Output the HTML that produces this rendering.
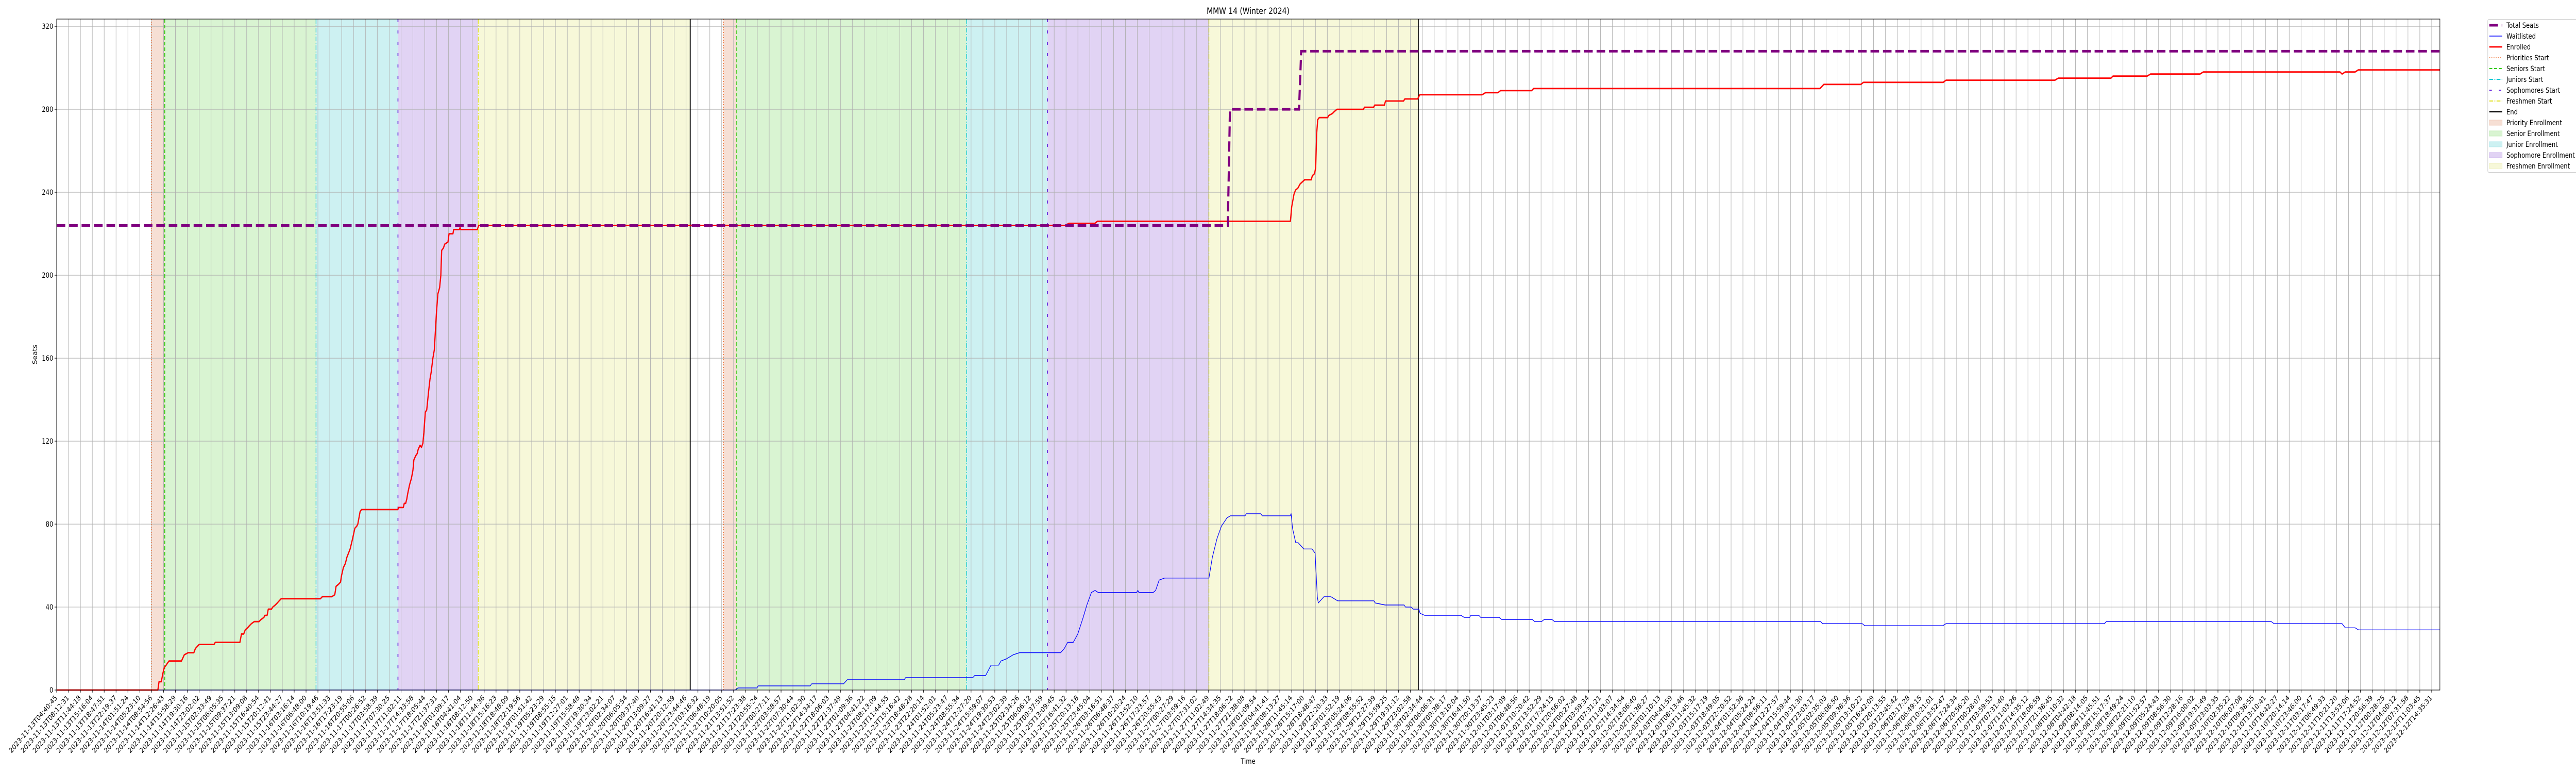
<!DOCTYPE html>
<html><head><meta charset="utf-8"><title>MMW 14 (Winter 2024)</title>
<meta name="viewport" content="width=6000, initial-scale=1">
<style>
html,body{margin:0;padding:0;background:#fff;overflow:hidden;width:100%;height:100%;}
svg{display:block;width:100vw;height:100vh;font-family:"DejaVu Sans","Liberation Sans",sans-serif;}
</style></head>
<body>
<svg id="chart" xmlns="http://www.w3.org/2000/svg" viewBox="0 0 6000 1500" preserveAspectRatio="none">
<rect x="0" y="0" width="6000" height="1500" fill="#ffffff"/>
<g id="spans"></g>
<g id="grid"></g>
<g id="vlines"></g>
<g id="series"></g>
<g id="axes"></g>
<text x="2907" y="27" text-anchor="middle" font-size="16.7" fill="#000">MMW 14 (Winter 2024)</text>
<text x="2907" y="1482" text-anchor="middle" font-size="13.9" fill="#000">Time</text>
<text x="86" y="688" text-anchor="middle" font-size="13.9" fill="#000" transform="rotate(-90 86 688)">Seats</text>
<g id="legend"></g>
</svg>
<script>
// ---- data (x = tick index position, y = seats) ----
const enrolledX = [0,8.52,8.62,8.81,8.94,9.07,9.22,9.33,9.46,10.51,10.75,11.07,11.55,11.68,11.84,12.01,13.25,13.36,15.43,15.56,15.75,15.88,16.07,16.23,16.40,16.64,17.04,17.21,17.45,17.53,17.72,17.82,18.09,18.20,18.41,18.58,18.74,18.90,22.21,22.37,23.17,23.42,23.53,23.74,23.90,23.98,24.14,24.31,24.44,24.71,24.92,25.11,25.27,25.36,25.55,25.67,28.73,28.79,29.19,29.27,29.39,29.48,29.57,29.72,29.87,30.00,30.08,30.24,30.36,30.44,30.60,30.72,30.84,30.92,31.04,31.16,31.32,31.44,31.53,31.68,31.80,31.98,32.10,32.25,32.35,32.42,32.56,32.68,32.95,33.04,33.37,33.43,33.91,33.97,34.03,35.42,35.54,84.89,85.25,87.42,87.64,103.89,104.00,104.19,104.32,104.52,104.71,104.90,105.09,105.65,105.74,105.93,106.02,106.10,106.19,106.32,107.03,107.12,107.44,107.61,107.81,110.04,110.13,110.90,110.99,111.81,111.90,113.42,113.53,114.61,114.78,120.03,120.32,121.37,121.58,124.20,124.37,148.48,148.81,151.92,152.15,158.86,159.10,168.26,168.55,172.99,173.16,176.03,176.32,180.48,180.77,192.27,192.45,192.72,193.55,193.82,200.69];
const enrolledY = [0,0,4,4,8,11,12,13,14,14,17,18,18,20,21,22,22,23,23,27,27,29,30,31,32,33,33,34,35,36,36,39,39,40,41,42,43,44,44,45,45,46,50,51,52,55,59,61,64,68,73,78,79,80,86,87,87,88,88,90,90,92,95,99,102,106,111,113,114,116,118,117,119,124,134,135,144,150,153,160,164,182,191,194,200,212,213,215,216,220,220,222,222,223,222,222,224,224,225,225,226,226,233,239,241,242,244,245,246,246,248,249,252,268,275,276,276,277,278,279,280,280,281,281,282,282,284,284,285,285,287,287,288,288,289,289,290,290,292,292,293,293,294,294,295,295,296,296,297,297,298,298,297,298,298,299,299];
const waitX = [0,57.14,57.37,58.97,59.07,63.45,63.58,66.27,66.58,71.37,71.49,77.15,77.31,78.23,78.68,79.32,79.52,79.97,80.55,81.08,84.54,84.85,85.14,85.61,85.99,86.44,86.75,87.13,87.44,87.71,90.93,91.05,91.13,92.33,92.54,92.84,93.30,97.03,97.32,97.71,98.08,98.55,98.85,100.07,100.18,101.40,101.52,103.87,103.95,104.07,104.34,104.55,105.02,105.71,105.97,106.16,106.24,106.72,107.30,107.87,110.92,111.03,111.86,113.47,113.58,114.06,114.23,114.71,114.81,115.20,118.26,118.53,118.98,119.09,119.76,119.92,121.47,121.69,124.26,124.47,125.04,125.26,125.92,126.14,148.54,148.70,152.04,152.26,158.82,159.10,172.44,172.60,186.49,186.72,192.45,192.72,193.55,193.83,200.69];
const waitY = [0,0,1,1,2,2,3,3,5,5,6,6,7,7,12,12,14,15,17,18,18,20,23,23,27,35,41,47,48,47,47,48,47,47,48,53,54,54,64,73,79,83,84,84,85,85,84,84,85,78,71,71,68,68,66,45,42,45,45,43,43,42,41,41,40,40,39,39,37,36,36,35,35,36,36,35,35,34,34,33,33,34,34,33,33,32,32,31,31,32,32,33,33,32,32,30,30,29,29];
const seatsX = [0,98.62,98.80,104.62,104.80,200.69];
const seatsY = [224,224,280,280,308,308];
const phaseNames = ["priority","senior","junior","sophomore","freshmen","priority","senior","junior","sophomore","freshmen"];
const phaseStart = [7.98,9.10,21.84,28.74,35.50,56.15,57.27,76.63,83.44,97.03];
const phaseEnd   = [9.10,21.84,28.74,35.50,53.35,57.27,76.63,83.44,97.03,114.66];
const endLines = [53.35,114.66];
const yTicks = [0,40,80,120,160,200,240,280,320];
const tickCount = 201;
const firstTickLabel = "2023-11-13T04:40:45";
const lastTickLabel = "2023-12-12T14:35:31";

// ---- scales ----
const X0=132, X1=5683, Y0=1339, Y1=37, XMIN=0, XMAX=200.69, YMAX=323.5;
const sx = v => X0 + (v - XMIN) / (XMAX - XMIN) * (X1 - X0);
const sy = v => Y0 - v / YMAX * (Y0 - Y1);
const NS = "http://www.w3.org/2000/svg";
function mk(tag, attrs, parent){ const e=document.createElementNS(NS,tag); for(const k in attrs) e.setAttribute(k,attrs[k]); if(parent) parent.appendChild(e); return e; }

const phaseFill = {priority:"#f6dfd4", senior:"#d9f4d2", junior:"#cdf1f2", sophomore:"#e1d3f4", freshmen:"#f7f8d9"};
const phaseLine = {
  priority:{c:"#ee6c2d",d:"2,3",w:1.6},
  senior:{c:"#33cc11",d:"7,4",w:2},
  junior:{c:"#11c8d4",d:"9,3,2,3",w:1.6},
  sophomore:{c:"#6622dd",d:"6,16",w:2},
  freshmen:{c:"#e0e020",d:"9,3,2,3",w:1.6}
};

const spansG=document.getElementById('spans');
for(let i=0;i<phaseNames.length;i++){
  const r=mk('rect',{x:sx(phaseStart[i]),y:Y1,width:sx(phaseEnd[i])-sx(phaseStart[i]),height:Y0-Y1,fill:phaseFill[phaseNames[i]]},spansG);
  
  
}
const gridG=document.getElementById('grid');
for(let i=0;i<tickCount;i++){
  const l=mk('line',{x1:sx(i),x2:sx(i),y1:Y1,y2:Y0,stroke:"#b0b0b0","stroke-width":1.1},gridG);
  
  
}
yTicks.forEach(t=>{
  const l=mk('line',{x1:X0,x2:X1,y1:sy(t),y2:sy(t),stroke:"#b0b0b0","stroke-width":1.1},gridG);
  
  
});
const vG=document.getElementById('vlines');
for(let i=0;i<phaseNames.length;i++){
  const s=phaseLine[phaseNames[i]];
  const l=mk('line',{x1:sx(phaseStart[i]),x2:sx(phaseStart[i]),y1:Y1,y2:Y0,stroke:s.c,"stroke-width":s.w,"stroke-dasharray":s.d},vG);
  
  
}
endLines.forEach(e=>{
  const l=mk('line',{x1:sx(e),x2:sx(e),y1:Y1,y2:Y0,stroke:"#000","stroke-width":2.2},vG);
  
  
});
const serG=document.getElementById('series');
function pts(xs,ys){ return xs.map((x,i)=>sx(x).toFixed(1)+','+sy(ys[i]).toFixed(1)).join(' '); }
const wl=mk('polyline',{points:pts(waitX,waitY),fill:"none",stroke:"#0000ff","stroke-width":1.4,"stroke-linejoin":"round"},serG);


const en=mk('polyline',{points:pts(enrolledX,enrolledY),fill:"none",stroke:"#ff0000","stroke-width":2.8,"stroke-linejoin":"round"},serG);


const ts=mk('polyline',{points:pts(seatsX,seatsY),fill:"none",stroke:"#800080","stroke-width":5,"stroke-dasharray":"20,9"},serG);



const axG=document.getElementById('axes');
mk('rect',{x:X0,y:Y1,width:X1-X0,height:Y0-Y1,fill:"none",stroke:"#000","stroke-width":1.1},axG);
yTicks.forEach(t=>{
  mk('line',{x1:X0-4.9,x2:X0,y1:sy(t),y2:sy(t),stroke:"#000","stroke-width":1.1},axG);
  const tx=mk('text',{x:X0-8,y:sy(t)+5,"text-anchor":"end","font-size":13.9,fill:"#000"},axG);
  tx.textContent=String(t);
  
  
});
function parseT(s){ return Date.UTC(+s.slice(0,4),+s.slice(5,7)-1,+s.slice(8,10),+s.slice(11,13),+s.slice(14,16),+s.slice(17,19)); }
const t0=parseT(firstTickLabel), t1=parseT(lastTickLabel);
const stepMs=(t1-t0)/(tickCount-1);
function fmt(ms){ return new Date(Math.round(ms/1000)*1000).toISOString().slice(0,19); }
for(let i=0;i<tickCount;i++){
  const x=sx(i);
  mk('line',{x1:x,x2:x,y1:Y0,y2:Y0+4.9,stroke:"#000","stroke-width":1.1},axG);
  const ty=Y0+16;
  const tx=mk('text',{x:x+2,y:ty,"text-anchor":"end","font-size":13.9,fill:"#000",transform:`rotate(-45 ${x+2} ${ty})`},axG);
  tx.textContent=fmt(t0+i*stepMs);
  
  
}

const lg=document.getElementById('legend');
mk('rect',{x:5794.5,y:37.5,width:220,height:297,rx:3,fill:"#fff","fill-opacity":0.8,stroke:"#cccccc","stroke-width":1},lg);
const entries=[
  {t:"Total Seats",k:"line",c:"#800080",w:5,d:"20,9"},
  {t:"Waitlisted",k:"line",c:"#0000ff",w:1.4,d:""},
  {t:"Enrolled",k:"line",c:"#ff0000",w:2.8,d:""},
  {t:"Priorities Start",k:"line",c:"#ee6c2d",w:1.6,d:"2,3"},
  {t:"Seniors Start",k:"line",c:"#33cc11",w:2,d:"7,4"},
  {t:"Juniors Start",k:"line",c:"#11c8d4",w:2,d:"9,3,2,3"},
  {t:"Sophomores Start",k:"line",c:"#6622dd",w:2,d:"6,16"},
  {t:"Freshmen Start",k:"line",c:"#e0e020",w:2,d:"9,3,2,3"},
  {t:"End",k:"line",c:"#000",w:2.2,d:""},
  {t:"Priority Enrollment",k:"patch",c:"#f6dfd4",s:"#f0cdbd"},
  {t:"Senior Enrollment",k:"patch",c:"#d9f4d2",s:"#c3ecb8"},
  {t:"Junior Enrollment",k:"patch",c:"#cdf1f2",s:"#b3e9ec"},
  {t:"Sophomore Enrollment",k:"patch",c:"#e1d3f4",s:"#cfbaee"},
  {t:"Freshmen Enrollment",k:"patch",c:"#f7f8d9",s:"#eff1be"}
];
entries.forEach((e,i)=>{
  const cy=49+i*21;
  const g=mk('g',{},lg);
  
  
  if(e.k==="line"){
    const a={x1:5798,x2:5828,y1:cy,y2:cy,stroke:e.c,"stroke-width":e.w};
    if(e.d) a["stroke-dasharray"]=e.d;
    mk('line',a,g);
  } else {
    mk('rect',{x:5798,y:cy-5,width:30,height:10,fill:e.c,stroke:e.s,"stroke-width":1},g);
  }
  const tx=mk('text',{x:5838,y:cy+5,"font-size":13.9,fill:"#000"},g);
  tx.textContent=e.t;
});
</script>
</body></html>
